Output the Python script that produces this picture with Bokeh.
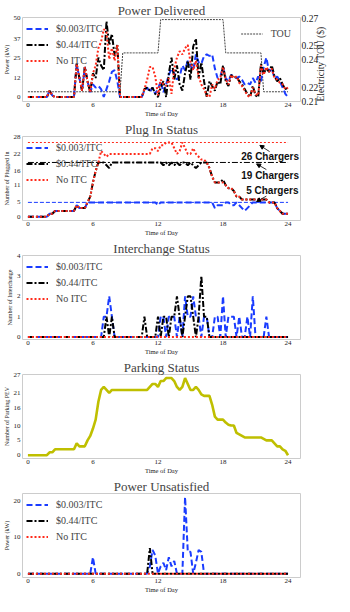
import numpy as np
from bokeh.plotting import figure
from bokeh.models import (Range1d, LinearAxis, FixedTicker, Legend, LegendItem,
                          Arrow, NormalHead)
from bokeh.core.properties import value
from bokeh.layouts import column
from bokeh.embed import file_html
from bokeh.resources import INLINE

# ---------------- data ----------------
hours = np.arange(0, 24.25, 0.25)          # 15-minute time grid, 97 points
x_ticks = [0, 6, 12, 18, 24]
series_labels = ["$0.003/ITC", "$0.44/ITC", "No ITC"]

# Power Delivered (kW)
pd_itc003 = ([0] * 8 + [4, 1] + [0] * 8 +
             [21, 12, 4, 19, 10, 3, 8, 6, 7, 5, 0, 5, 10, 16, 17, 10, 0] + [0] * 8 +
             [4, 6, 3, 6, 2,
              5, 10, 3, 8, 14, 18, 15, 11, 13, 20, 17, 23, 20, 17, 27, 22, 21, 26, 27, 26, 27, 18, 12, 13,
              19, 12, 10, 14, 13, 12, 13, 11, 8, 9, 8, 12, 9, 13, 10, 19, 25, 16, 18, 12, 13, 10, 6, 2,
              0])
pd_itc044 = ([0] * 8 + [4, 1] + [0] * 8 +
             [21, 12, 4, 19, 10, 3, 15, 12, 25, 20, 17, 48, 33, 40, 26, 33, 0] + [0] * 8 +
             [5, 6, 4, 6, 2,
              0, 6, 10, 0, 15, 25, 11, 20, 8, 4, 15, 23, 11, 32, 37, 12, 22, 10, 0, 10, 7, 4, 10, 8,
              20, 10, 7, 14, 12, 13, 10, 8, 5, 2, 0, 7, 1, 0, 21, 15, 18, 16, 20, 13, 10, 12, 8, 5,
              6])
pd_noitc = ([0] * 8 + [4, 1] + [0] * 8 +
            [21, 12, 4, 19, 10, 3, 15, 20, 31, 35, 43, 41, 24, 31, 23, 33, 0] + [0] * 8 +
            [5, 11, 19, 19, 13,
             1, 11, 8, 7, 12, 2, 18, 25, 29, 27, 31, 33, 22, 17, 23, 13, 8, 5, 1, 0, 8, 5, 11, 12,
             19, 11, 8, 14, 12, 13, 9, 7, 4, 1, 0, 6, 2, 1, 20, 14, 19, 16, 18, 12, 11, 9, 8, 5,
             6])
tou_price = [0.217] * 35 + [0.245] * 14 + [0.269] * 24 + [0.245] * 14 + [0.217] * 10
pd_yticks = [0, 12, 25, 37, 50]
tou_yticks = [0.21, 0.22, 0.24, 0.25, 0.27]

# Plug In Status
plug_start = [0] * 8 + [1, 1] + [2] * 8 + [4, 3, 3, 3, 5]
plug_noitc = (plug_start + [7, 12, 16, 19, 23, 22, 21, 22] + [22] * 15 +
              [24, 24, 23, 25, 25, 26, 26, 26, 24, 22, 23, 26, 24, 22, 22, 24, 22, 21, 20, 20,
               19, 17, 14, 12, 12, 12, 12, 11, 10, 10, 9, 7, 7, 6] +
              [6] * 8 + [6, 5, 5, 5, 3, 2, 1, 1, 1])
plug_itc044 = (plug_start + [7, 12, 16, 19, 19, 19, 18, 17, 19] + [19] * 18 +
               [18, 19, 18, 19, 18, 19, 18, 19, 19, 18, 19, 18, 17, 18, 19, 19] +
               [19, 17, 14, 12, 12, 12, 13, 11, 10, 10, 9, 7, 7, 6] +
               [6] * 8 + [6, 5, 5, 5, 3, 2, 1, 1, 1])
plug_itc003 = (plug_start + [5] * 25 + [4] + [5] * 20 +
               [3, 4, 4, 4, 5, 5, 4, 4, 5, 4, 3, 2, 3, 4, 5] + [5] * 5 +
               [5, 5, 5, 3, 2, 1, 1, 1])
charger_counts = [26, 19, 5]
charger_span = [0, 24]
charger_texts = ["26 Chargers", "19 Chargers", "5 Chargers"]
plug_yticks = [0, 5, 11, 16, 22, 28]

# Interchange Status
ic_itc003 = ([0] * 28 + [1, 1, 2, 1] + [0] * 17 +
             [1, 1, 0, 1, 1, 1, 0, 1, 0, 2, 1, 1, 2, 1, 1, 0, 1, 1, 0, 0,
              1, 1, 0, 2, 0, 1, 1, 1, 0, 1, 0, 0, 1, 0, 2, 0, 0, 0, 0, 1] + [0] * 8)
ic_itc044 = ([0] * 29 + [1, 0, 1] + [0] * 11 + [1] + [0] * 4 +
             [1, 0, 1, 1, 0, 1, 1, 2, 1, 0, 1, 2, 2, 1, 0, 1, 3, 1, 1] + [0] * 30)
ic_noitc = [0] * 97
ic_yticks = [0, 1, 2, 3, 4]

# Parking Status
parking = ([0] * 8 + [1, 1, 2] + [2] * 7 +
           [4, 3, 3, 3, 5, 6.5, 9, 12, 18, 22, 23, 22, 21, 22] + [22] * 13 +
           [23, 24, 24, 23, 25, 25, 26, 26, 26, 25, 23, 22, 23, 26, 24, 22, 22, 23, 22, 20.5,
            20, 20, 20, 17, 13, 12, 12, 12, 11, 10.3, 10, 10, 7.5, 7, 6.5] +
           [6] * 7 + [5.5, 5, 5, 5, 4, 3, 3, 2, 1.5, 0])
park_yticks = [0, 5, 10, 16, 21, 27]

# Power Unsatisfied (kW)
pu_itc003 = ([0] * 24 + [4.5] + [0] * 20 +
             [2, 6.5, 5, 0, 2, 3, 1, 4.5, 2, 3.5, 0, 0, 0, 21, 6, 6, 0, 3, 6.5, 6] + [0] * 32)
pu_itc044 = [0] * 45 + [7] + [0] * 51
pu_noitc = [0] * 97
pu_yticks = [0, 10, 20]

# ---------------- style ----------------
SERIF = "Liberation Serif"
BLUE = "#1a3cff"
BLACK = "#000000"
RED = "#ff2a1a"
OLIVE = "#bfbf00"
STYLES = [dict(line_color=BLUE, line_dash="6 3"),
          dict(line_color=BLACK, line_dash="6 2 2 2"),
          dict(line_color=RED, line_dash="2 2")]


def style_axis(ax, size="7px", label_size="6.5px"):
    ax.axis_line_color = None
    ax.major_tick_line_color = None
    ax.minor_tick_line_color = None
    ax.major_tick_out = 0
    ax.major_tick_in = 0
    ax.major_label_text_font = SERIF
    ax.major_label_text_font_size = size
    ax.major_label_text_color = "#222222"
    ax.axis_label_text_font = SERIF
    ax.axis_label_text_font_size = label_size
    ax.axis_label_text_font_style = "normal"
    ax.axis_label_text_color = "#222222"
    ax.major_label_standoff = 2
    ax.axis_label_standoff = 1


def make_fig(title, ylabel, yr, yticks):
    p = figure(width=334, height=119, x_range=Range1d(-0.5, 25.15), y_range=Range1d(*yr),
               output_backend="svg", toolbar_location=None,
               min_border_left=20, min_border_right=34, min_border_top=16, min_border_bottom=0)
    p.title.text = title
    p.title.text_font = SERIF
    p.title.text_font_size = "13px"
    p.title.text_font_style = "normal"
    p.title.align = "center"
    p.title.standoff = 0
    p.outline_line_color = "#cccccc"
    p.outline_line_width = 1
    p.grid.visible = False
    p.xaxis.ticker = FixedTicker(ticks=x_ticks)
    p.xaxis.axis_label = "Time of Day"
    p.yaxis.ticker = FixedTicker(ticks=yticks)
    p.yaxis.axis_label = ylabel
    style_axis(p.xaxis[0])
    style_axis(p.yaxis[0], label_size="6px")
    p.xaxis.major_label_standoff = 1
    p.xaxis.axis_label_standoff = 0
    return p


def add_legend(p, items, location="top_left"):
    leg = Legend(items=items, location=location)
    leg.label_text_font = SERIF
    leg.label_text_font_size = "10px"
    leg.glyph_width = 22
    leg.glyph_height = 15
    leg.label_height = 15
    leg.spacing = 1
    leg.padding = 0
    leg.margin = 4
    leg.label_standoff = 8
    leg.background_fill_alpha = 0
    leg.border_line_alpha = 0
    p.add_layout(leg)
    return leg


def three_lines(p, ys):
    rs = []
    for y, st in zip(ys, STYLES):
        rs.append(p.line(hours, y, line_width=2, **st))
    return [LegendItem(label=l, renderers=[r]) for l, r in zip(series_labels, rs)]


# Panel 1: Power Delivered
p1 = make_fig("Power Delivered", "Power (kW)", (-2.85, 50.4), pd_yticks)
p1.extra_y_ranges = {"tou": Range1d(0.21, 0.2705)}
r_tou = p1.line(hours, tou_price, y_range_name="tou", line_color="#444444",
                line_width=1, line_dash="2 1")
items1 = three_lines(p1, [pd_itc003, pd_itc044, pd_noitc])
rax = LinearAxis(y_range_name="tou", ticker=FixedTicker(ticks=tou_yticks),
                 axis_label="Electricity TOU ($)")
style_axis(rax, size="9.5px", label_size="9.5px")
rax.major_label_standoff = 1
rax.axis_label_standoff = 0
try:
    rax.axis_label_orientation = np.pi / 2
    rax.axis_label_align = "start"
except Exception:
    try:
        rax.axis_label_align = "left"
    except Exception:
        pass
p1.add_layout(rax, "right")
add_legend(p1, items1)
leg_tou = add_legend(p1, [LegendItem(label="TOU", renderers=[r_tou])], "top_right")
leg_tou.margin = 9

# Panel 2: Plug In Status
p2 = make_fig("Plug In Status", "Number of Plugged In", (-1.35, 28.1), plug_yticks)
cap_styles = [dict(line_color=RED, line_dash="2 2"),
              dict(line_color=BLACK, line_dash="6 2 2 2"),
              dict(line_color=BLUE, line_dash="4 2")]
for c, st in zip(charger_counts, cap_styles):
    p2.line(charger_span, [c, c], line_width=1, **st)
items2 = three_lines(p2, [plug_itc003, plug_itc044, plug_noitc])
add_legend(p2, items2)
p2.text(x=[22.35, 22.35, 22.55], y=[21.2, 14.6, 9.0], text=charger_texts,
        text_align="center", text_baseline="middle",
        text_font=value("Liberation Sans"), text_font_style="bold",
        text_font_size=value("10px"), text_color="#111111")
arrows = [((22.3, 22.8), (21.4, 25.0)),
          ((22.0, 16.5), (21.1, 18.5)),
          ((22.0, 7.2), (21.1, 5.3))]
for (xs, ys), (xe, ye) in arrows:
    p2.add_layout(Arrow(end=NormalHead(size=4, fill_color="black", line_color="black"),
                        x_start=xs, y_start=ys, x_end=xe, y_end=ye, line_width=0.8))

# Panel 3: Interchange Status
p3 = make_fig("Interchange Status", "Number of Interchange", (-0.12, 4.0), ic_yticks)
items3 = three_lines(p3, [ic_itc003, ic_itc044, ic_noitc])
add_legend(p3, items3)

# Panel 4: Parking Status
p4 = make_fig("Parking Status", "Number of Parking PEV", (-1.1, 27.2), park_yticks)
p4.line(hours, parking, line_color=OLIVE, line_width=2.6)

# Panel 5: Power Unsatisfied
p5 = make_fig("Power Unsatisfied", "Power (kW)", (-1.05, 22.0), pu_yticks)
items5 = three_lines(p5, [pu_itc003, pu_itc044, pu_noitc])
add_legend(p5, items5)

layout = column(p1, p2, p3, p4, p5, spacing=0)
open("out.html", "w").write(file_html(layout, INLINE))
